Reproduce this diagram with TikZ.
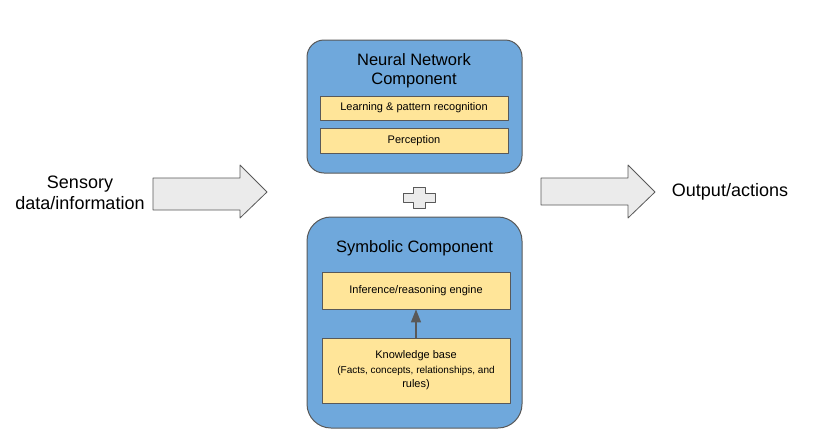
\documentclass[tikz,border=0pt]{standalone}
\usepackage{fontspec}
\setmainfont{Liberation Sans}
\usetikzlibrary{arrows.meta}

\begin{document}
\begin{tikzpicture}
				[x=1pt,y=-1pt,line join=round,
				%Styles
				component/.style={rounded corners=#1,draw=boxline,fill=compblue,line width=1pt,minimum width=215pt,inner sep=0pt},
				part/.style={draw=boxline,fill=partyellow,line width=0.8pt,minimum width=188pt,inner sep=0pt,align=center,font=\fontsize{11}{14}\selectfont},
				title text/.style={align=center,font=\fontsize{16.5}{19}\selectfont},
				side text/.style={align=center,font=\fontsize{18}{21}\selectfont},
				fat arrow/.style={draw=boxline,fill=arrowgray,line width=0.8pt}
				]
				
				%Colors
				\definecolor{compblue}{HTML}{6FA8DC}	%component boxes
				\definecolor{partyellow}{HTML}{FFE599}	%inner boxes
				\definecolor{arrowgray}{HTML}{EBEBEB}	%block arrows
				\definecolor{boxline}{HTML}{595959}		%outlines
				
				\useasboundingbox (0,0) rectangle (825,445);
				
				%The graphic
				\node[component=17pt,minimum height=133pt] (neural) at (414.5,106.5) {};
				\node[component=24pt,minimum height=211pt] (symbolic) at (414.5,322.5) {};
				
				\node[title text] (neural title) at (414,70.5) {Neural Network\\Component};
				\node[title text] (symbolic title) at (414.5,248) {Symbolic Component};
				
				\node[part,minimum height=24pt] (learning) at (414,108) {Learning \& pattern recognition};
				\node[part,minimum height=25pt] (perception) at (414,140.5) {Perception};
				\node[part,minimum height=37pt] (inference) at (416,290.5) {Inference/reasoning engine};
				\node[part,minimum height=65pt] (knowledge) at (416,370.5)
					{Knowledge base\\[1pt]\fontsize{10}{12}\selectfont (Facts, concepts, relationships, and\\rules)};
				
				\draw[-{Triangle[width=10pt,length=13pt]},boxline,line width=1.5pt] (knowledge) -- (inference);
				
				%Plus sign
				\draw[fat arrow] (413,187) -- (425,187) -- (425,193) -- (435,193) -- (435,202) -- (425,202)
					-- (425,208) -- (413,208) -- (413,202) -- (403,202) -- (403,193) -- (413,193) -- cycle;
				
				%Input and output
				\draw[fat arrow] (153,178) -- (240,178) -- (240,165) -- (267,192) -- (240,218) -- (240,210) -- (153,210) -- cycle;
				\draw[fat arrow] (541,178) -- (628,178) -- (628,165) -- (655,192) -- (628,218) -- (628,205) -- (541,205) -- cycle;
				
				\node[side text] (input) at (80,192.5) {Sensory\\data/information};
				\node[side text] (output) at (730,192) {Output/actions};
			\end{tikzpicture}
\end{document}
